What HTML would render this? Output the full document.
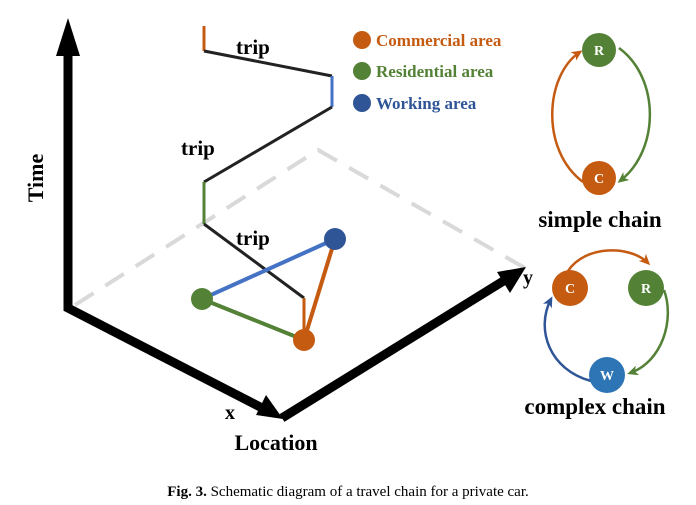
<!DOCTYPE html>
<html><head><style>body{margin:0;background:#fff}svg{display:block}</style></head><body>
<svg width="696" height="505" xmlns="http://www.w3.org/2000/svg" font-family="Liberation Serif, serif" font-weight="bold">
<defs>
<marker id="ao" markerWidth="11" markerHeight="10" refX="8" refY="5" orient="auto" markerUnits="userSpaceOnUse"><path d="M0,0 L11,5 L0,10 L3,5z" fill="#c55a11"/></marker>
<marker id="ag" markerWidth="11" markerHeight="10" refX="8" refY="5" orient="auto" markerUnits="userSpaceOnUse"><path d="M0,0 L11,5 L0,10 L3,5z" fill="#538135"/></marker>
<marker id="ab" markerWidth="11" markerHeight="10" refX="8" refY="5" orient="auto" markerUnits="userSpaceOnUse"><path d="M0,0 L11,5 L0,10 L3,5z" fill="#2f5597"/></marker>
</defs>
<polyline points="75,305 318,150 525,268" fill="none" stroke="#d9d9d9" stroke-width="4" stroke-dasharray="22,14"/>
<polyline points="68,55 68,308 266,410" fill="none" stroke="#000" stroke-width="9"/>
<polygon points="68,18 56,56 80,56" fill="#000"/>
<polygon points="283,419 256,415 266,395" fill="#000"/>
<line x1="282" y1="418" x2="505" y2="280" stroke="#000" stroke-width="9"/>
<polygon points="526,267 510,293 497,272" fill="#000"/>
<line x1="204" y1="26" x2="204" y2="51" stroke="#c55a11" stroke-width="3"/>
<polyline points="204,51 332,76" fill="none" stroke="#222" stroke-width="3"/>
<line x1="332" y1="76" x2="332" y2="107" stroke="#4472c4" stroke-width="3"/>
<line x1="332" y1="107" x2="204" y2="182" stroke="#222" stroke-width="3"/>
<line x1="204" y1="182" x2="204" y2="224" stroke="#538135" stroke-width="3"/>
<line x1="204" y1="224" x2="304" y2="298" stroke="#222" stroke-width="3"/>
<line x1="304" y1="298" x2="304" y2="338" stroke="#c55a11" stroke-width="3"/>
<line x1="202" y1="299" x2="335" y2="239" stroke="#4472c4" stroke-width="4"/>
<line x1="202" y1="299" x2="304" y2="340" stroke="#538135" stroke-width="4"/>
<line x1="304" y1="340" x2="335" y2="239" stroke="#c55a11" stroke-width="4"/>
<circle cx="335" cy="239" r="11" fill="#2f5597"/>
<circle cx="202" cy="299" r="11" fill="#538135"/>
<circle cx="304" cy="340" r="11" fill="#c55a11"/>
<g font-size="21" fill="#000">
<text x="236" y="54">trip</text><text x="181" y="155">trip</text><text x="236" y="245">trip</text>
<text transform="translate(43,178) rotate(-90)" text-anchor="middle" font-size="22">Time</text>
<text x="225" y="419" font-size="20">x</text>
<text x="523" y="284" font-size="20">y</text>
<text x="276" y="450" text-anchor="middle" font-size="22">Location</text>
<text x="600" y="227" text-anchor="middle" font-size="23">simple chain</text>
<text x="595" y="414" text-anchor="middle" font-size="23">complex chain</text>
</g>
<circle cx="362" cy="40" r="9" fill="#c55a11"/><circle cx="362" cy="71" r="9" fill="#538135"/><circle cx="362" cy="103" r="9" fill="#2f5597"/>
<g font-size="17"><text x="376" y="46" fill="#c55a11">Commercial area</text><text x="376" y="77" fill="#538135">Residential area</text><text x="376" y="109" fill="#2f5597">Working area</text></g>
<path d="M583,182 C540,150 545,75 580,52" fill="none" stroke="#c55a11" stroke-width="2.5" marker-end="url(#ao)"/>
<path d="M619,48 C660,78 660,150 620,181" fill="none" stroke="#538135" stroke-width="2.5" marker-end="url(#ag)"/>
<circle cx="599" cy="50" r="17" fill="#538135"/><circle cx="599" cy="178" r="17" fill="#c55a11"/>
<path d="M568,271 C585,245 630,245 648,263" fill="none" stroke="#c55a11" stroke-width="2.5" marker-end="url(#ao)"/>
<path d="M664,290 C675,320 662,362 630,373" fill="none" stroke="#538135" stroke-width="2.5" marker-end="url(#ag)"/>
<path d="M591,381 C550,370 535,330 551,299" fill="none" stroke="#2f5597" stroke-width="2.5" marker-end="url(#ab)"/>
<circle cx="570" cy="288" r="18" fill="#c55a11"/><circle cx="646" cy="288" r="18" fill="#538135"/><circle cx="607" cy="375" r="18" fill="#2e75b6"/>
<g font-size="14" fill="#fff" text-anchor="middle"><text x="599" y="55">R</text><text x="599" y="183">C</text><text x="570" y="293">C</text><text x="646" y="293">R</text><text x="607" y="380">W</text></g>
<text x="348" y="496" text-anchor="middle" font-size="15" font-weight="normal"><tspan font-weight="bold">Fig. 3.</tspan>  Schematic diagram of a travel chain for a private car.</text>
</svg>
</body></html>
